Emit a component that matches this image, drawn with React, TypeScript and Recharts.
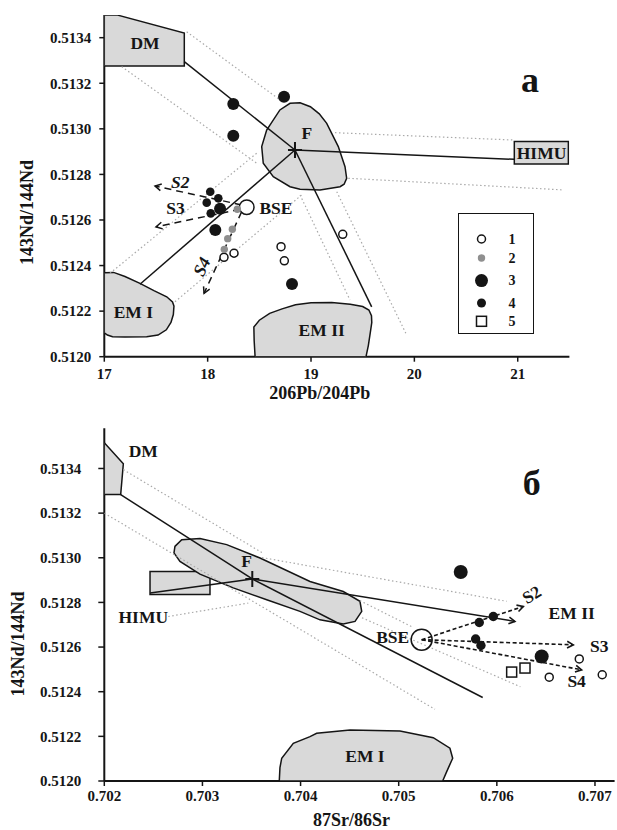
import { Legend, Scatter, ScatterChart, XAxis, YAxis } from "recharts"

type Pt = { x: number; y: number }
type Tag = Pt & { text: string }
type Seg = [Pt, Pt]

// ---------- panel a: 206Pb/204Pb vs 143Nd/144Nd ----------
const pbTicks = [17, 18, 19, 20, 21]
const ndTicksA = [0.512, 0.5122, 0.5124, 0.5126, 0.5128, 0.513, 0.5132, 0.5134]

const aOpen: Pt[] = [
  { x: 18.158, y: 0.512436 },
  { x: 18.255, y: 0.512454 },
  { x: 18.71, y: 0.512483 },
  { x: 18.742, y: 0.512421 },
  { x: 19.307, y: 0.512537 },
]
const aGray: Pt[] = [
  { x: 18.287, y: 0.512647 },
  { x: 18.239, y: 0.512559 },
  { x: 18.194, y: 0.512518 },
  { x: 18.161, y: 0.512471 },
]
const aBig: Pt[] = [
  { x: 18.248, y: 0.513109 },
  { x: 18.739, y: 0.513141 },
  { x: 18.248, y: 0.51297 },
  { x: 18.074, y: 0.512556 },
  { x: 18.816, y: 0.512319 },
  { x: 18.12, y: 0.512649 },
]
const aSmall: Pt[] = [
  { x: 18.025, y: 0.512724 },
  { x: 17.991, y: 0.512676 },
  { x: 18.103, y: 0.512695 },
  { x: 18.03, y: 0.512629 },
]
const aBse: Pt[] = [{ x: 18.378, y: 0.512656 }]
const aF: Pt = { x: 18.845, y: 0.512907 }

const aDM: Pt[] = [
  { x: 17, y: 0.5135 },
  { x: 17.12, y: 0.5135 },
  { x: 17.774, y: 0.51342 },
  { x: 17.774, y: 0.513276 },
  { x: 17, y: 0.513276 },
]
const aHIMU: Pt[] = [
  { x: 20.967, y: 0.512944 },
  { x: 21.49, y: 0.512944 },
  { x: 21.49, y: 0.512846 },
  { x: 20.967, y: 0.512846 },
]
const aFField: Pt[] = [
  { x: 18.797, y: 0.513112 },
  { x: 18.894, y: 0.513114 },
  { x: 18.994, y: 0.513097 },
  { x: 19.08, y: 0.513066 },
  { x: 19.152, y: 0.513024 },
  { x: 19.264, y: 0.512922 },
  { x: 19.329, y: 0.512834 },
  { x: 19.345, y: 0.512783 },
  { x: 19.32, y: 0.512757 },
  { x: 19.281, y: 0.512746 },
  { x: 19.087, y: 0.512732 },
  { x: 18.894, y: 0.512735 },
  { x: 18.797, y: 0.512746 },
  { x: 18.635, y: 0.51279 },
  { x: 18.538, y: 0.512849 },
  { x: 18.523, y: 0.512922 },
  { x: 18.571, y: 0.512995 },
  { x: 18.699, y: 0.513083 },
]
const aEM1: Pt[] = [
  { x: 17, y: 0.512368 },
  { x: 17.09, y: 0.51237 },
  { x: 17.2, y: 0.512352 },
  { x: 17.345, y: 0.512322 },
  { x: 17.48, y: 0.51229 },
  { x: 17.604, y: 0.512263 },
  { x: 17.66, y: 0.51224 },
  { x: 17.674, y: 0.512222 },
  { x: 17.668, y: 0.512185 },
  { x: 17.645, y: 0.51215 },
  { x: 17.6, y: 0.512118 },
  { x: 17.52, y: 0.512095 },
  { x: 17.41, y: 0.512088 },
  { x: 17.2, y: 0.512086 },
  { x: 17.08, y: 0.512088 },
  { x: 17.03, y: 0.512095 },
  { x: 17, y: 0.512105 },
]
const aEM2: Pt[] = [
  { x: 18.459, y: 0.512 },
  { x: 18.45, y: 0.51207 },
  { x: 18.447, y: 0.51213 },
  { x: 18.5, y: 0.51216 },
  { x: 18.6, y: 0.51219 },
  { x: 18.72, y: 0.51221 },
  { x: 18.85, y: 0.512228 },
  { x: 19.0, y: 0.512237 },
  { x: 19.2, y: 0.512238 },
  { x: 19.38, y: 0.51223 },
  { x: 19.5, y: 0.51222 },
  { x: 19.56, y: 0.512205 },
  { x: 19.585, y: 0.51218 },
  { x: 19.588, y: 0.51215 },
  { x: 19.575, y: 0.51211 },
  { x: 19.555, y: 0.51205 },
  { x: 19.532, y: 0.512 },
]

const aSolid: Seg[] = [
  [aF, { x: 17.774, y: 0.513295 }],
  [aF, { x: 19.587, y: 0.512219 }],
  [aF, { x: 20.967, y: 0.512866 }],
  [aF, { x: 17.345, y: 0.512318 }],
]
const aDotted: Seg[] = [
  [{ x: 17.797, y: 0.513426 }, { x: 18.7, y: 0.513127 }],
  [{ x: 17.168, y: 0.513273 }, { x: 18.475, y: 0.512849 }],
  [{ x: 19.232, y: 0.512983 }, { x: 20.957, y: 0.512951 }],
  [{ x: 19.361, y: 0.512783 }, { x: 21.441, y: 0.512732 }],
  [{ x: 17.055, y: 0.512366 }, { x: 18.475, y: 0.512893 }],
  [{ x: 17.684, y: 0.512241 }, { x: 18.91, y: 0.51271 }],
  [{ x: 18.894, y: 0.51271 }, { x: 19.377, y: 0.512249 }],
  [{ x: 19.249, y: 0.512724 }, { x: 19.926, y: 0.512095 }],
]
const aArrows: Seg[] = [
  [{ x: 18.329, y: 0.512666 }, { x: 17.491, y: 0.512749 }],
  [{ x: 18.313, y: 0.512647 }, { x: 17.5, y: 0.51257 }],
  [{ x: 18.329, y: 0.512636 }, { x: 17.965, y: 0.512278 }],
]
const aTags: Tag[] = [
  { x: 17.394, y: 0.513375, text: "DM" },
  { x: 18.96, y: 0.51298, text: "F" },
  { x: 21.23, y: 0.512895, text: "HIMU" },
  { x: 17.281, y: 0.512198, text: "EM I" },
  { x: 19.103, y: 0.512117, text: "EM II" },
  { x: 18.661, y: 0.512651, text: "BSE" },
  { x: 17.734, y: 0.512768, text: "S2" },
  { x: 17.69, y: 0.512651, text: "S3" },
  { x: 17.942, y: 0.512395, text: "S4" },
  { x: 21.119, y: 0.513215, text: "a" },
]
const legendLabels = ["1", "2", "3", "4", "5"]

// ---------- panel б: 87Sr/86Sr vs 143Nd/144Nd ----------
const srTicks = [0.702, 0.703, 0.704, 0.705, 0.706, 0.707]
const ndTicksB = [0.512, 0.5122, 0.5124, 0.5126, 0.5128, 0.513, 0.5132, 0.5134]

const bOpen: Pt[] = [
  { x: 0.70684, y: 0.512547 },
  { x: 0.706534, y: 0.512465 },
  { x: 0.707074, y: 0.512476 },
]
const bBig: Pt[] = [
  { x: 0.705632, y: 0.512936 },
  { x: 0.706457, y: 0.512558 },
]
const bSmall: Pt[] = [
  { x: 0.705821, y: 0.51271 },
  { x: 0.705964, y: 0.512737 },
  { x: 0.705784, y: 0.512636 },
  { x: 0.705838, y: 0.512607 },
]
const bSquare: Pt[] = [
  { x: 0.706151, y: 0.512488 },
  { x: 0.706287, y: 0.512506 },
]
const bBse: Pt[] = [{ x: 0.705234, y: 0.512633 }]
const bF: Pt = { x: 0.703508, y: 0.512905 }

const bDM: Pt[] = [
  { x: 0.702, y: 0.513515 },
  { x: 0.702194, y: 0.513421 },
  { x: 0.702167, y: 0.513283 },
  { x: 0.702, y: 0.513283 },
]
const bHIMU: Pt[] = [
  { x: 0.702466, y: 0.512939 },
  { x: 0.703077, y: 0.512939 },
  { x: 0.703077, y: 0.512835 },
  { x: 0.702466, y: 0.512835 },
]
const bFField: Pt[] = [
  { x: 0.70272, y: 0.513051 },
  { x: 0.702789, y: 0.513081 },
  { x: 0.702975, y: 0.513086 },
  { x: 0.703247, y: 0.513059 },
  { x: 0.703587, y: 0.512999 },
  { x: 0.704096, y: 0.512894 },
  { x: 0.704435, y: 0.512849 },
  { x: 0.704605, y: 0.512805 },
  { x: 0.704623, y: 0.51276 },
  { x: 0.704555, y: 0.512715 },
  { x: 0.704435, y: 0.512703 },
  { x: 0.704198, y: 0.512722 },
  { x: 0.703994, y: 0.51276 },
  { x: 0.703655, y: 0.512812 },
  { x: 0.703314, y: 0.512865 },
  { x: 0.702975, y: 0.512927 },
  { x: 0.702771, y: 0.512984 },
  { x: 0.70271, y: 0.513022 },
]
const bEM1: Pt[] = [
  { x: 0.703783, y: 0.512 },
  { x: 0.70379, y: 0.51206 },
  { x: 0.703808, y: 0.512102 },
  { x: 0.703926, y: 0.512169 },
  { x: 0.704096, y: 0.512199 },
  { x: 0.704164, y: 0.512214 },
  { x: 0.704504, y: 0.512229 },
  { x: 0.705013, y: 0.512224 },
  { x: 0.705352, y: 0.512194 },
  { x: 0.705522, y: 0.512147 },
  { x: 0.70555, y: 0.512102 },
  { x: 0.705489, y: 0.512042 },
  { x: 0.705448, y: 0.512 },
]

const bSolid: Seg[] = [
  [{ x: 0.702167, y: 0.513283 }, bF],
  [bF, { x: 0.705856, y: 0.512374 }],
  [{ x: 0.702467, y: 0.512842 }, bF],
]
const bDotted: Seg[] = [
  [{ x: 0.702194, y: 0.513395 }, { x: 0.703607, y: 0.513023 }],
  [{ x: 0.703607, y: 0.513001 }, { x: 0.7061, y: 0.512805 }],
  [{ x: 0.702, y: 0.5132 }, { x: 0.70537, y: 0.512321 }],
  [{ x: 0.702652, y: 0.512737 }, { x: 0.703467, y: 0.512797 }],
  [{ x: 0.704605, y: 0.512808 }, { x: 0.705134, y: 0.512691 }],
  [{ x: 0.704626, y: 0.512731 }, { x: 0.70624, y: 0.512422 }],
]
const bArrowSolid: Seg[] = [[bF, { x: 0.706185, y: 0.512715 }]]
const bArrows: Seg[] = [
  [bBse[0], { x: 0.70627, y: 0.512782 }],
  [bBse[0], { x: 0.706779, y: 0.51261 }],
  [bBse[0], { x: 0.706864, y: 0.512498 }],
]
const bTags: Tag[] = [
  { x: 0.702397, y: 0.513478, text: "DM" },
  { x: 0.703451, y: 0.512984, text: "F" },
  { x: 0.702397, y: 0.512735, text: "HIMU" },
  { x: 0.704656, y: 0.512114, text: "EM I" },
  { x: 0.706763, y: 0.512752, text: "EM II" },
  { x: 0.704939, y: 0.512647, text: "BSE" },
  { x: 0.706355, y: 0.512835, text: "S2" },
  { x: 0.707044, y: 0.512603, text: "S3" },
  { x: 0.706813, y: 0.512446, text: "S4" },
  { x: 0.706355, y: 0.513336, text: "б" },
]

// ---------- drawing helpers ----------
const INK = "#151515"
const FIELD = "#d9d9d9"
const DOT_GREY = "#a9a9a9"
const tickStyle = { fontSize: 15, fontWeight: 700, fill: INK }

type TagLook = { size?: number; angle?: number; italic?: boolean }
const tagLookA: Record<string, TagLook> = {
  a: { size: 36 },
  S2: { italic: true },
  S4: { angle: -65, italic: true },
}
const tagLookB: Record<string, TagLook> = {
  "б": { size: 36 },
  S2: { angle: -32 },
}

const tagShape = (looks: Record<string, TagLook>) => (p: any) => {
  const text: string = p.payload.text
  const look = looks[text] || {}
  const size = look.size ?? 17.5
  return (
    <text
      x={p.cx}
      y={p.cy}
      textAnchor="middle"
      dominantBaseline="central"
      fontSize={size}
      fontWeight={700}
      fontStyle={look.italic ? "italic" : "normal"}
      fill={INK}
      transform={look.angle ? `rotate(${look.angle} ${p.cx} ${p.cy})` : undefined}
    >
      {text}
    </text>
  )
}

const dot = (r: number, fill: string, stroke = "none") => (p: any) => (
  <circle cx={p.cx} cy={p.cy} r={r} fill={fill} stroke={stroke} strokeWidth={1.5} />
)
const square = (p: any) => (
  <rect x={p.cx - 5} y={p.cy - 5} width={10} height={10} fill="#fff" stroke={INK} strokeWidth={1.5} />
)
const cross = (p: any) => (
  <g stroke={INK} strokeWidth={2}>
    <line x1={p.cx - 7} y1={p.cy} x2={p.cx + 7} y2={p.cy} />
    <line x1={p.cx} y1={p.cy - 8} x2={p.cx} y2={p.cy + 8} />
  </g>
)
const nothing = () => <g />

// arrow drawn from the two scaled points that Scatter hands to its line
const arrowLine = (dash: string | undefined, width: number) => (lp: any) => {
  const [s, e] = lp.points
  const a = Math.atan2(e.y - s.y, e.x - s.x)
  const h = 7
  const l = `${e.x - h * Math.cos(a - 0.5)},${e.y - h * Math.sin(a - 0.5)}`
  const r = `${e.x - h * Math.cos(a + 0.5)},${e.y - h * Math.sin(a + 0.5)}`
  return (
    <g fill="none" stroke={INK} strokeWidth={width}>
      <line x1={s.x} y1={s.y} x2={e.x} y2={e.y} strokeDasharray={dash} />
      <polyline points={`${l} ${e.x},${e.y} ${r}`} />
    </g>
  )
}

const field = (name: string, pts: Pt[]) => (
  <Scatter
    key={name}
    name={name}
    data={pts}
    shape={nothing}
    line={{ fill: FIELD, stroke: INK, strokeWidth: 1.5 }}
    lineJointType="linearClosed"
    legendType="none"
    isAnimationActive={false}
  />
)
const segment = (key: string, s: Seg, line: any) => (
  <Scatter key={key} data={s} shape={nothing} line={line} legendType="none" isAnimationActive={false} />
)
const dottedStyle = { stroke: DOT_GREY, strokeWidth: 1.2, strokeDasharray: "1.5 2.5" }
const solidStyle = { stroke: INK, strokeWidth: 1.5 }

const yTitle = (dx: number, dy: number) => (props: any) => {
  const vb = props.viewBox || { x: 0, y: 0, height: 0 }
  const x = vb.x + dx
  const y = vb.y + vb.height / 2 + dy
  return (
    <text x={x} y={y} transform={`rotate(-90 ${x} ${y})`} textAnchor="middle" dominantBaseline="central"
      fontSize={18} fontWeight={700} fill={INK}>
      143Nd/144Nd
    </text>
  )
}
const xTitle = (text: string, dx: number, dy: number) => (props: any) => {
  const vb = props.viewBox || { x: 0, y: 0, width: 0 }
  return (
    <text x={vb.x + vb.width / 2 + dx} y={vb.y + dy} textAnchor="middle" dominantBaseline="central"
      fontSize={18} fontWeight={700} fill={INK}>
      {text}
    </text>
  )
}

function LegendBox() {
  const marks = [dot(4, "#fff", INK), dot(3.7, "#8f8f8f"), dot(6.5, INK), dot(4.5, INK), square]
  const rows = [25, 44, 66.6, 89, 107.3]
  return (
    <div style={{ width: 76, height: 121, border: `1.5px solid ${INK}`, background: "#fff", boxSizing: "border-box" }}>
      <svg width={73} height={118}>
        {legendLabels.map((t, i) => (
          <g key={t}>
            {marks[i]({ cx: 22.5, cy: rows[i] })}
            <text x={53} y={rows[i]} textAnchor="middle" dominantBaseline="central" fontSize={14} fontWeight={700} fill={INK}>
              {t}
            </text>
          </g>
        ))}
      </svg>
    </div>
  )
}

function PbChart() {
  return (
    <ScatterChart width={617} height={405} margin={{ top: 14.9, right: 47.6, bottom: 0, left: 0 }}>
      <XAxis
        type="number"
        dataKey="x"
        domain={[17, 21.5]}
        ticks={pbTicks}
        allowDataOverflow
        height={48.3}
        tick={tickStyle}
        tickSize={5}
        tickMargin={7}
        axisLine={{ stroke: INK, strokeWidth: 2 }}
        tickLine={{ stroke: INK, strokeWidth: 1.5 }}
        label={{ content: xTitle("206Pb/204Pb", -17, 36.5) }}
      />
      <YAxis
        type="number"
        dataKey="y"
        domain={[0.512, 0.5135]}
        ticks={ndTicksA}
        allowDataOverflow
        width={104.3}
        tick={tickStyle}
        tickSize={5}
        tickMargin={8}
        tickFormatter={(v: number) => v.toFixed(4)}
        axisLine={{ stroke: INK, strokeWidth: 2 }}
        tickLine={{ stroke: INK, strokeWidth: 1.5 }}
        label={{ content: yTitle(26.7, 26.7) }}
      />
      {field("DM", aDM)}
      {field("HIMU", aHIMU)}
      {field("F", aFField)}
      {field("EM I", aEM1)}
      {field("EM II", aEM2)}
      {aDotted.map((s, i) => segment(`d${i}`, s, dottedStyle))}
      {aSolid.map((s, i) => segment(`s${i}`, s, solidStyle))}
      {aArrows.map((s, i) => segment(`a${i}`, s, arrowLine("7 5", 1.5)))}
      <Scatter name="F" data={[aF]} shape={cross} isAnimationActive={false} />
      <Scatter name="BSE" data={aBse} shape={dot(7.3, "#fff", INK)} isAnimationActive={false} />
      <Scatter name="1" data={aOpen} shape={dot(4, "#fff", INK)} isAnimationActive={false} />
      <Scatter name="2" data={aGray} shape={dot(3.7, "#8f8f8f")} isAnimationActive={false} />
      <Scatter name="3" data={aBig} shape={dot(6, INK)} isAnimationActive={false} />
      <Scatter name="4" data={aSmall} shape={dot(4.3, INK)} isAnimationActive={false} />
      <Scatter name="labels" data={aTags} shape={tagShape(tagLookA)} isAnimationActive={false} />
      <Legend
        layout="horizontal"
        verticalAlign="middle"
        align="center"
        content={() => <LegendBox />}
        wrapperStyle={{ left: 457.7, top: 212.7, width: 76, height: 121 }}
      />
    </ScatterChart>
  )
}

function SrChart() {
  return (
    <ScatterChart width={617} height={415} margin={{ top: 13.3, right: 2.4, bottom: 0, left: 0 }}>
      <XAxis
        type="number"
        dataKey="x"
        domain={[0.702, 0.7072]}
        ticks={srTicks}
        allowDataOverflow
        height={49}
        tick={tickStyle}
        tickSize={5}
        tickMargin={4}
        tickFormatter={(v: number) => v.toFixed(3)}
        axisLine={{ stroke: INK, strokeWidth: 2 }}
        tickLine={{ stroke: INK, strokeWidth: 1.5 }}
        label={{ content: xTitle("87Sr/86Sr", -8, 38.5) }}
      />
      <YAxis
        type="number"
        dataKey="y"
        domain={[0.512, 0.51358]}
        ticks={ndTicksB}
        allowDataOverflow
        width={104.3}
        tick={tickStyle}
        tickSize={6}
        tickMargin={17}
        tickFormatter={(v: number) => v.toFixed(4)}
        axisLine={{ stroke: INK, strokeWidth: 2 }}
        tickLine={{ stroke: INK, strokeWidth: 1.5 }}
        label={{ content: yTitle(18.3, 39.3) }}
      />
      {field("DM", bDM)}
      {field("HIMU", bHIMU)}
      {field("F", bFField)}
      {field("EM I", bEM1)}
      {bDotted.map((s, i) => segment(`d${i}`, s, dottedStyle))}
      {bSolid.map((s, i) => segment(`s${i}`, s, solidStyle))}
      {bArrowSolid.map((s, i) => segment(`as${i}`, s, arrowLine(undefined, 1.5)))}
      {bArrows.map((s, i) => segment(`a${i}`, s, arrowLine("4 2.5", 1.6)))}
      <Scatter name="F" data={[bF]} shape={cross} isAnimationActive={false} />
      <Scatter name="BSE" data={bBse} shape={dot(10.5, "none", INK)} isAnimationActive={false} />
      <Scatter name="1" data={bOpen} shape={dot(4, "#fff", INK)} isAnimationActive={false} />
      <Scatter name="3" data={bBig} shape={dot(7, INK)} isAnimationActive={false} />
      <Scatter name="4" data={bSmall} shape={dot(4.7, INK)} isAnimationActive={false} />
      <Scatter name="5" data={bSquare} shape={square} isAnimationActive={false} />
      <Scatter name="labels" data={bTags} shape={tagShape(tagLookB)} isAnimationActive={false} />
    </ScatterChart>
  )
}

export default function App() {
  return (
    <div
      style={{
        position: "absolute",
        left: 0,
        top: 0,
        width: 617,
        height: 830,
        background: "#fff",
        fontFamily: "'Liberation Serif', 'DejaVu Serif', serif",
      }}
    >
      <div style={{ position: "absolute", left: 0, top: 0 }}>
        <PbChart />
      </div>
      <div style={{ position: "absolute", left: 0, top: 415 }}>
        <SrChart />
      </div>
    </div>
  )
}
